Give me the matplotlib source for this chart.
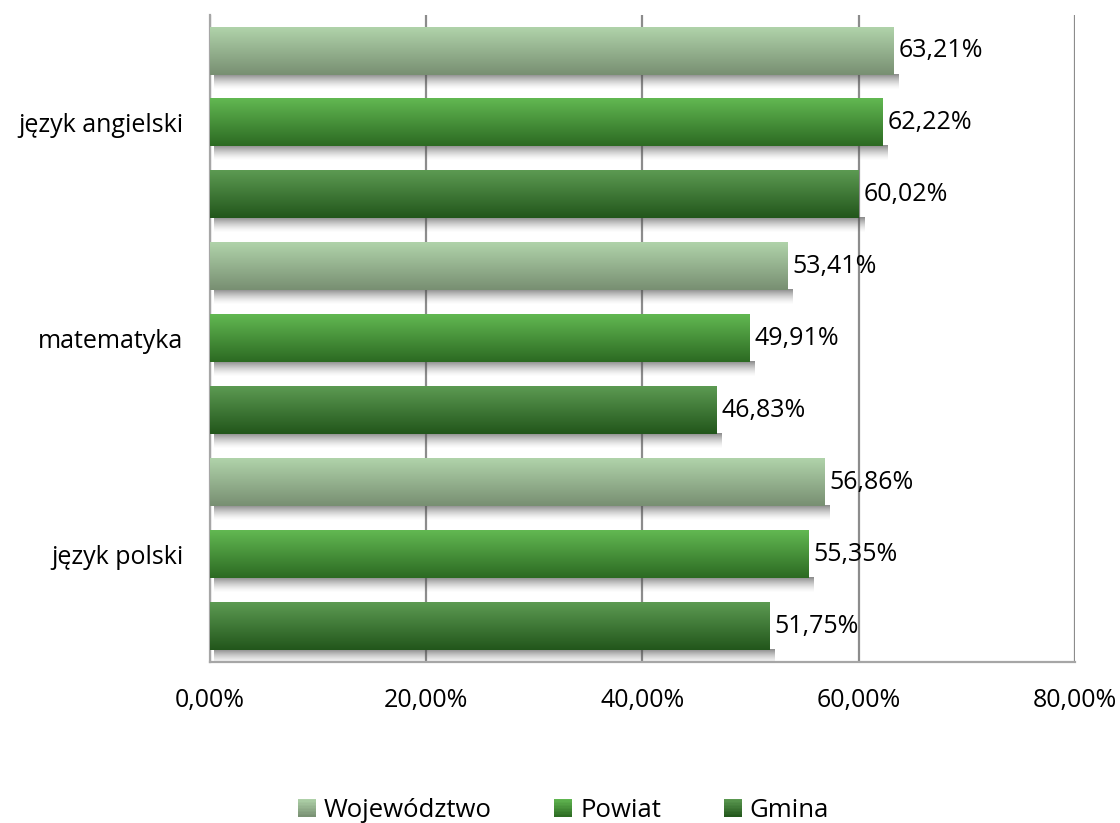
import numpy as np
import matplotlib
matplotlib.use("Agg")
import matplotlib.pyplot as plt
from matplotlib.patches import Patch, Rectangle
from matplotlib.legend_handler import HandlerBase
from matplotlib.colors import to_rgb

plt.rcParams['font.family'] = ['Open Sans', 'DejaVu Sans']

categories = ["język polski", "matematyka", "język angielski"]
series = ["Województwo", "Powiat", "Gmina"]
wojewodztwo = [56.86, 53.41, 63.21]
powiat = [55.35, 49.91, 62.22]
gmina = [51.75, 46.83, 60.02]
xticks = [0, 20, 40, 60, 80]

# gradient colours (top, bottom) per series
grad = {
    "Województwo": ("#b0d3aa", "#788f72"),
    "Powiat": ("#62b852", "#2c6a22"),
    "Gmina": ("#5c9a52", "#22561b"),
}


def blend(c_top, c_bot, t):
    a = np.array(to_rgb(c_top))
    b = np.array(to_rgb(c_bot))
    return a * (1 - t) + b * t


def gradient_img(c_top, c_bot, n=64):
    t = np.linspace(0, 1, n)[:, None]
    return blend(c_top, c_bot, t)[:, None, :]


def shadow_img(n=32):
    t = np.linspace(0, 1, n)
    img = np.zeros((n, 1, 4))
    img[:, 0, :3] = 0.3
    img[:, 0, 3] = 0.65 * (1 - t) ** 1.5
    return img


class GradientHandler(HandlerBase):
    def create_artists(self, legend, orig_handle, xdescent, ydescent,
                       width, height, fontsize, trans):
        c_top, c_bot = grad[orig_handle.get_label()]
        n = 12
        arts = []
        for k in range(n):
            t = (k + 0.5) / n
            r = Rectangle((-xdescent, -ydescent + height * (1 - (k + 1) / n)),
                          width, height / n + 0.3,
                          facecolor=blend(c_top, c_bot, t), edgecolor='none',
                          transform=trans)
            arts.append(r)
        return arts


fig = plt.figure(figsize=(11.2, 8.23), dpi=100)
ax = fig.add_axes([0.1875, 0.1956, 0.7723, 0.7862])

h = 0.218
offsets = [0.333, 0.0, -0.333]
values = [wojewodztwo, powiat, gmina]

for s, vals, off in zip(series, values, offsets):
    for i, v in enumerate(vals):
        y = i + off
        top = y + h / 2
        bot = y - h / 2
        # soft shadow under the bar
        ax.imshow(shadow_img(), extent=[0.4, v + 0.5, bot - 0.07, bot],
                  aspect='auto', interpolation='bilinear', zorder=2)
        ax.imshow(gradient_img(*grad[s]), extent=[0, v, bot, top],
                  aspect='auto', interpolation='bilinear', zorder=3)
        ax.text(v + 0.45, y, f"{v:.2f}".replace('.', ',') + '%',
                va='center', ha='left', fontsize=18, color='black', zorder=4)

ax.set_xlim(0, 80)
ax.set_ylim(-0.5, 2.5)
ax.set_xticks(xticks)
ax.set_xticklabels([f"{t:.2f}".replace('.', ',') + '%' for t in xticks], fontsize=18)
ax.set_yticks(range(len(categories)))
ax.set_yticklabels(categories, fontsize=18)
ax.tick_params(axis='both', length=0)
ax.tick_params(axis='x', pad=18.5)
ax.tick_params(axis='y', pad=19)

ax.grid(True, axis='x', color='#8c8c8c', linewidth=1.6, zorder=1)
ax.set_axisbelow(True)
for sp in ['top', 'right']:
    ax.spines[sp].set_visible(False)
for sp in ['left', 'bottom']:
    ax.spines[sp].set_color('#a6a6a6')
    ax.spines[sp].set_linewidth(1.6)

handles = [Patch(label=s) for s in series]
fig.legend(handles=handles, loc='center', bbox_to_anchor=(0.503, 0.015),
           ncol=3, frameon=False, fontsize=18.5, handlelength=0.7,
           handleheight=0.7, handletextpad=0.3, columnspacing=2.45,
           handler_map={Patch: GradientHandler()})

fig.savefig("out.png", dpi=100)
